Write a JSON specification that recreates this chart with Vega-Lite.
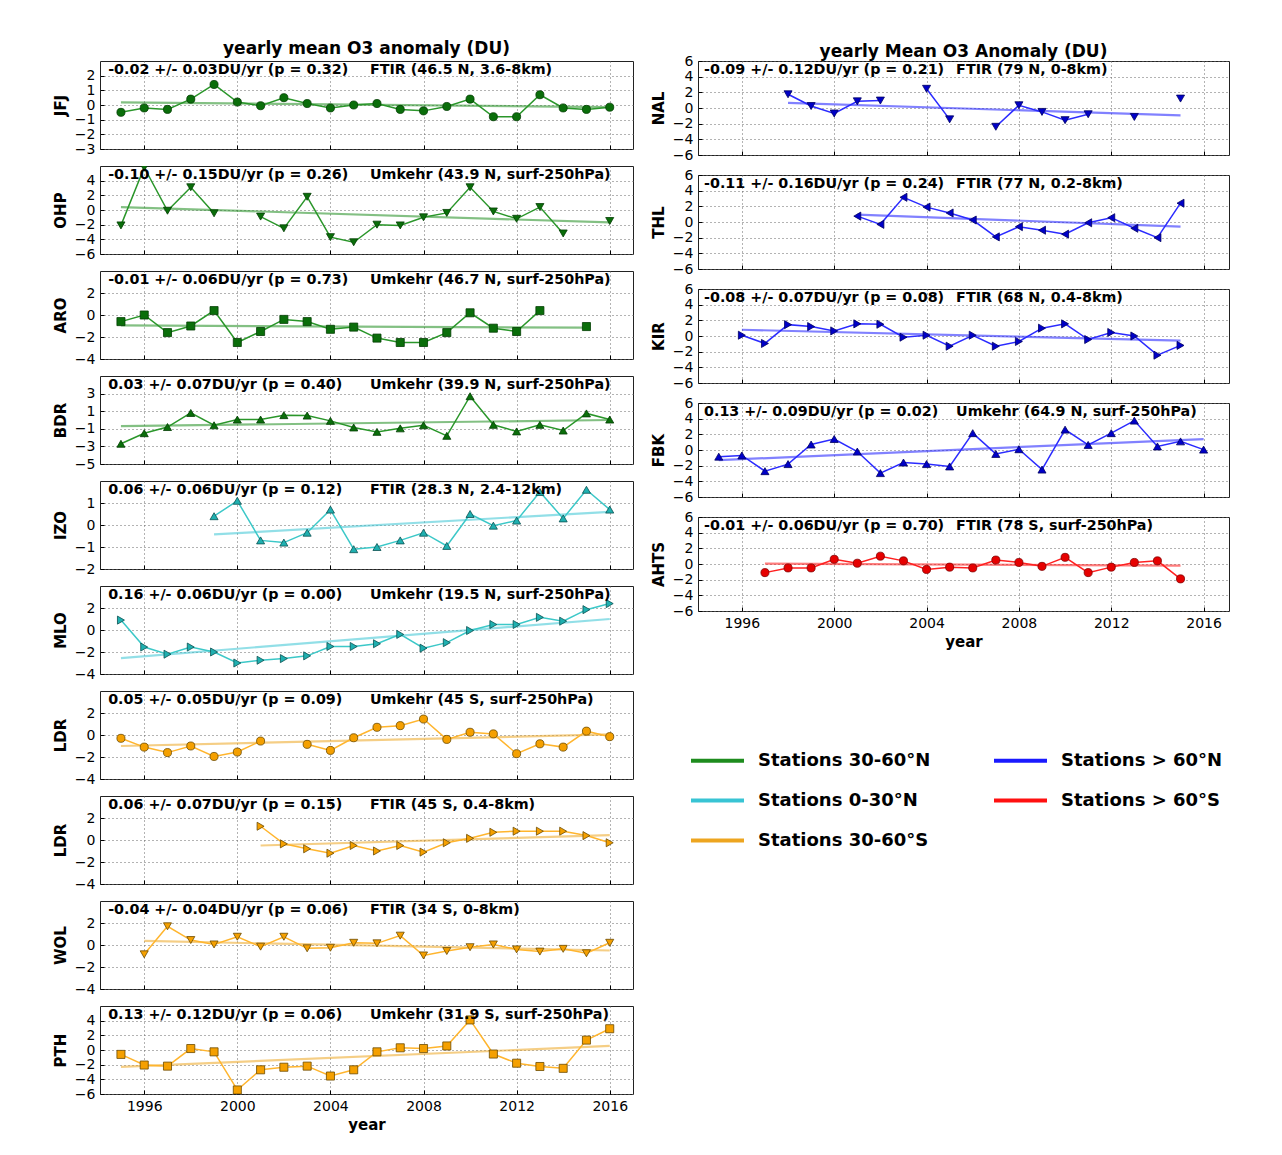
{
"$schema": "https://vega.github.io/schema/vega-lite/v6.json",
"padding": {"left": 52, "top": 39, "right": 40, "bottom": 20},
"background": "#ffffff",
"datasets": {
"obs": [
{"p":"JFJ","yr":1995,"v":-0.5},{"p":"JFJ","yr":1996,"v":-0.2},{"p":"JFJ","yr":1997,"v":-0.3},{"p":"JFJ","yr":1998,"v":0.4},{"p":"JFJ","yr":1999,"v":1.4},{"p":"JFJ","yr":2000,"v":0.2},{"p":"JFJ","yr":2001,"v":-0.05},{"p":"JFJ","yr":2002,"v":0.5},{"p":"JFJ","yr":2003,"v":0.1},{"p":"JFJ","yr":2004,"v":-0.2},{"p":"JFJ","yr":2005,"v":0.0},{"p":"JFJ","yr":2006,"v":0.1},{"p":"JFJ","yr":2007,"v":-0.3},{"p":"JFJ","yr":2008,"v":-0.4},{"p":"JFJ","yr":2009,"v":-0.1},{"p":"JFJ","yr":2010,"v":0.4},{"p":"JFJ","yr":2011,"v":-0.8},{"p":"JFJ","yr":2012,"v":-0.8},{"p":"JFJ","yr":2013,"v":0.7},{"p":"JFJ","yr":2014,"v":-0.2},{"p":"JFJ","yr":2015,"v":-0.3},{"p":"JFJ","yr":2016,"v":-0.15},
{"p":"OHP","yr":1995,"v":-2.1},{"p":"OHP","yr":1996,"v":5.8},{"p":"OHP","yr":1997,"v":-0.1},{"p":"OHP","yr":1998,"v":3.1},{"p":"OHP","yr":1999,"v":-0.45},{"p":"OHP","yr":2000,"v":null},{"p":"OHP","yr":2001,"v":-0.9},{"p":"OHP","yr":2002,"v":-2.5},{"p":"OHP","yr":2003,"v":1.8},{"p":"OHP","yr":2004,"v":-3.7},{"p":"OHP","yr":2005,"v":-4.4},{"p":"OHP","yr":2006,"v":-2.0},{"p":"OHP","yr":2007,"v":-2.1},{"p":"OHP","yr":2008,"v":-1.0},{"p":"OHP","yr":2009,"v":-0.4},{"p":"OHP","yr":2010,"v":3.1},{"p":"OHP","yr":2011,"v":-0.2},{"p":"OHP","yr":2012,"v":-1.2},{"p":"OHP","yr":2013,"v":0.4},{"p":"OHP","yr":2014,"v":-3.2},{"p":"OHP","yr":2015,"v":null},{"p":"OHP","yr":2016,"v":-1.5},
{"p":"ARO","yr":1995,"v":-0.6},{"p":"ARO","yr":1996,"v":0.0},{"p":"ARO","yr":1997,"v":-1.6},{"p":"ARO","yr":1998,"v":-1.0},{"p":"ARO","yr":1999,"v":0.4},{"p":"ARO","yr":2000,"v":-2.5},{"p":"ARO","yr":2001,"v":-1.5},{"p":"ARO","yr":2002,"v":-0.4},{"p":"ARO","yr":2003,"v":-0.6},{"p":"ARO","yr":2004,"v":-1.3},{"p":"ARO","yr":2005,"v":-1.1},{"p":"ARO","yr":2006,"v":-2.1},{"p":"ARO","yr":2007,"v":-2.5},{"p":"ARO","yr":2008,"v":-2.5},{"p":"ARO","yr":2009,"v":-1.6},{"p":"ARO","yr":2010,"v":0.2},{"p":"ARO","yr":2011,"v":-1.2},{"p":"ARO","yr":2012,"v":-1.5},{"p":"ARO","yr":2013,"v":0.4},{"p":"ARO","yr":2014,"v":null},{"p":"ARO","yr":2015,"v":-1.05},
{"p":"BDR","yr":1995,"v":-2.7},{"p":"BDR","yr":1996,"v":-1.5},{"p":"BDR","yr":1997,"v":-0.8},{"p":"BDR","yr":1998,"v":0.8},{"p":"BDR","yr":1999,"v":-0.6},{"p":"BDR","yr":2000,"v":0.05},{"p":"BDR","yr":2001,"v":0.05},{"p":"BDR","yr":2002,"v":0.55},{"p":"BDR","yr":2003,"v":0.5},{"p":"BDR","yr":2004,"v":-0.1},{"p":"BDR","yr":2005,"v":-0.85},{"p":"BDR","yr":2006,"v":-1.35},{"p":"BDR","yr":2007,"v":-0.95},{"p":"BDR","yr":2008,"v":-0.6},{"p":"BDR","yr":2009,"v":-1.8},{"p":"BDR","yr":2010,"v":2.7},{"p":"BDR","yr":2011,"v":-0.55},{"p":"BDR","yr":2012,"v":-1.3},{"p":"BDR","yr":2013,"v":-0.55},{"p":"BDR","yr":2014,"v":-1.2},{"p":"BDR","yr":2015,"v":0.75},{"p":"BDR","yr":2016,"v":0.05},
{"p":"IZO","yr":1999,"v":0.4},{"p":"IZO","yr":2000,"v":1.1},{"p":"IZO","yr":2001,"v":-0.7},{"p":"IZO","yr":2002,"v":-0.8},{"p":"IZO","yr":2003,"v":-0.35},{"p":"IZO","yr":2004,"v":0.7},{"p":"IZO","yr":2005,"v":-1.1},{"p":"IZO","yr":2006,"v":-1.0},{"p":"IZO","yr":2007,"v":-0.7},{"p":"IZO","yr":2008,"v":-0.35},{"p":"IZO","yr":2009,"v":-0.95},{"p":"IZO","yr":2010,"v":0.5},{"p":"IZO","yr":2011,"v":-0.03},{"p":"IZO","yr":2012,"v":0.2},{"p":"IZO","yr":2013,"v":1.5},{"p":"IZO","yr":2014,"v":0.3},{"p":"IZO","yr":2015,"v":1.6},{"p":"IZO","yr":2016,"v":0.7},
{"p":"MLO","yr":1995,"v":0.9},{"p":"MLO","yr":1996,"v":-1.55},{"p":"MLO","yr":1997,"v":-2.2},{"p":"MLO","yr":1998,"v":-1.55},{"p":"MLO","yr":1999,"v":-2.0},{"p":"MLO","yr":2000,"v":-3.0},{"p":"MLO","yr":2001,"v":-2.75},{"p":"MLO","yr":2002,"v":-2.6},{"p":"MLO","yr":2003,"v":-2.35},{"p":"MLO","yr":2004,"v":-1.5},{"p":"MLO","yr":2005,"v":-1.5},{"p":"MLO","yr":2006,"v":-1.25},{"p":"MLO","yr":2007,"v":-0.4},{"p":"MLO","yr":2008,"v":-1.65},{"p":"MLO","yr":2009,"v":-1.15},{"p":"MLO","yr":2010,"v":-0.05},{"p":"MLO","yr":2011,"v":0.5},{"p":"MLO","yr":2012,"v":0.5},{"p":"MLO","yr":2013,"v":1.15},{"p":"MLO","yr":2014,"v":0.8},{"p":"MLO","yr":2015,"v":1.85},{"p":"MLO","yr":2016,"v":2.4},
{"p":"LDRU","yr":1995,"v":-0.3},{"p":"LDRU","yr":1996,"v":-1.1},{"p":"LDRU","yr":1997,"v":-1.6},{"p":"LDRU","yr":1998,"v":-1.0},{"p":"LDRU","yr":1999,"v":-1.95},{"p":"LDRU","yr":2000,"v":-1.55},{"p":"LDRU","yr":2001,"v":-0.55},{"p":"LDRU","yr":2002,"v":null},{"p":"LDRU","yr":2003,"v":-0.85},{"p":"LDRU","yr":2004,"v":-1.4},{"p":"LDRU","yr":2005,"v":-0.25},{"p":"LDRU","yr":2006,"v":0.7},{"p":"LDRU","yr":2007,"v":0.85},{"p":"LDRU","yr":2008,"v":1.45},{"p":"LDRU","yr":2009,"v":-0.4},{"p":"LDRU","yr":2010,"v":0.25},{"p":"LDRU","yr":2011,"v":0.1},{"p":"LDRU","yr":2012,"v":-1.7},{"p":"LDRU","yr":2013,"v":-0.8},{"p":"LDRU","yr":2014,"v":-1.1},{"p":"LDRU","yr":2015,"v":0.35},{"p":"LDRU","yr":2016,"v":-0.15},
{"p":"LDRF","yr":2001,"v":1.25},{"p":"LDRF","yr":2002,"v":-0.35},{"p":"LDRF","yr":2003,"v":-0.8},{"p":"LDRF","yr":2004,"v":-1.2},{"p":"LDRF","yr":2005,"v":-0.5},{"p":"LDRF","yr":2006,"v":-1.0},{"p":"LDRF","yr":2007,"v":-0.5},{"p":"LDRF","yr":2008,"v":-1.1},{"p":"LDRF","yr":2009,"v":-0.25},{"p":"LDRF","yr":2010,"v":0.15},{"p":"LDRF","yr":2011,"v":0.7},{"p":"LDRF","yr":2012,"v":0.8},{"p":"LDRF","yr":2013,"v":0.8},{"p":"LDRF","yr":2014,"v":0.8},{"p":"LDRF","yr":2015,"v":0.4},{"p":"LDRF","yr":2016,"v":-0.25},
{"p":"WOL","yr":1996,"v":-0.85},{"p":"WOL","yr":1997,"v":1.7},{"p":"WOL","yr":1998,"v":0.45},{"p":"WOL","yr":1999,"v":0.05},{"p":"WOL","yr":2000,"v":0.75},{"p":"WOL","yr":2001,"v":-0.15},{"p":"WOL","yr":2002,"v":0.75},{"p":"WOL","yr":2003,"v":-0.3},{"p":"WOL","yr":2004,"v":-0.25},{"p":"WOL","yr":2005,"v":0.2},{"p":"WOL","yr":2006,"v":0.15},{"p":"WOL","yr":2007,"v":0.85},{"p":"WOL","yr":2008,"v":-0.95},{"p":"WOL","yr":2009,"v":-0.55},{"p":"WOL","yr":2010,"v":-0.2},{"p":"WOL","yr":2011,"v":0.05},{"p":"WOL","yr":2012,"v":-0.4},{"p":"WOL","yr":2013,"v":-0.6},{"p":"WOL","yr":2014,"v":-0.35},{"p":"WOL","yr":2015,"v":-0.75},{"p":"WOL","yr":2016,"v":0.2},
{"p":"PTH","yr":1995,"v":-0.6},{"p":"PTH","yr":1996,"v":-2.05},{"p":"PTH","yr":1997,"v":-2.2},{"p":"PTH","yr":1998,"v":0.2},{"p":"PTH","yr":1999,"v":-0.25},{"p":"PTH","yr":2000,"v":-5.45},{"p":"PTH","yr":2001,"v":-2.7},{"p":"PTH","yr":2002,"v":-2.35},{"p":"PTH","yr":2003,"v":-2.2},{"p":"PTH","yr":2004,"v":-3.55},{"p":"PTH","yr":2005,"v":-2.7},{"p":"PTH","yr":2006,"v":-0.25},{"p":"PTH","yr":2007,"v":0.3},{"p":"PTH","yr":2008,"v":0.2},{"p":"PTH","yr":2009,"v":0.55},{"p":"PTH","yr":2010,"v":4.1},{"p":"PTH","yr":2011,"v":-0.55},{"p":"PTH","yr":2012,"v":-1.8},{"p":"PTH","yr":2013,"v":-2.25},{"p":"PTH","yr":2014,"v":-2.5},{"p":"PTH","yr":2015,"v":1.35},{"p":"PTH","yr":2016,"v":2.9},
{"p":"NAL","yr":1998,"v":1.75},{"p":"NAL","yr":1999,"v":0.25},{"p":"NAL","yr":2000,"v":-0.7},{"p":"NAL","yr":2001,"v":0.85},{"p":"NAL","yr":2002,"v":0.95},{"p":"NAL","yr":2003,"v":null},{"p":"NAL","yr":2004,"v":2.45},{"p":"NAL","yr":2005,"v":-1.45},{"p":"NAL","yr":2006,"v":null},{"p":"NAL","yr":2007,"v":-2.4},{"p":"NAL","yr":2008,"v":0.35},{"p":"NAL","yr":2009,"v":-0.5},{"p":"NAL","yr":2010,"v":-1.55},{"p":"NAL","yr":2011,"v":-0.8},{"p":"NAL","yr":2012,"v":null},{"p":"NAL","yr":2013,"v":-1.15},{"p":"NAL","yr":2014,"v":null},{"p":"NAL","yr":2015,"v":1.2},
{"p":"THL","yr":2001,"v":0.75},{"p":"THL","yr":2002,"v":-0.3},{"p":"THL","yr":2003,"v":3.15},{"p":"THL","yr":2004,"v":1.9},{"p":"THL","yr":2005,"v":1.15},{"p":"THL","yr":2006,"v":0.25},{"p":"THL","yr":2007,"v":-1.9},{"p":"THL","yr":2008,"v":-0.6},{"p":"THL","yr":2009,"v":-1.05},{"p":"THL","yr":2010,"v":-1.55},{"p":"THL","yr":2011,"v":-0.1},{"p":"THL","yr":2012,"v":0.55},{"p":"THL","yr":2013,"v":-0.8},{"p":"THL","yr":2014,"v":-2.0},{"p":"THL","yr":2015,"v":2.4},
{"p":"KIR","yr":1996,"v":0.1},{"p":"KIR","yr":1997,"v":-0.95},{"p":"KIR","yr":1998,"v":1.45},{"p":"KIR","yr":1999,"v":1.2},{"p":"KIR","yr":2000,"v":0.65},{"p":"KIR","yr":2001,"v":1.55},{"p":"KIR","yr":2002,"v":1.5},{"p":"KIR","yr":2003,"v":-0.15},{"p":"KIR","yr":2004,"v":0.1},{"p":"KIR","yr":2005,"v":-1.3},{"p":"KIR","yr":2006,"v":0.1},{"p":"KIR","yr":2007,"v":-1.3},{"p":"KIR","yr":2008,"v":-0.7},{"p":"KIR","yr":2009,"v":1.0},{"p":"KIR","yr":2010,"v":1.55},{"p":"KIR","yr":2011,"v":-0.45},{"p":"KIR","yr":2012,"v":0.45},{"p":"KIR","yr":2013,"v":0.0},{"p":"KIR","yr":2014,"v":-2.45},{"p":"KIR","yr":2015,"v":-1.2},
{"p":"FBK","yr":1995,"v":-0.85},{"p":"FBK","yr":1996,"v":-0.7},{"p":"FBK","yr":1997,"v":-2.7},{"p":"FBK","yr":1998,"v":-1.8},{"p":"FBK","yr":1999,"v":0.7},{"p":"FBK","yr":2000,"v":1.4},{"p":"FBK","yr":2001,"v":-0.2},{"p":"FBK","yr":2002,"v":-2.95},{"p":"FBK","yr":2003,"v":-1.6},{"p":"FBK","yr":2004,"v":-1.8},{"p":"FBK","yr":2005,"v":-2.1},{"p":"FBK","yr":2006,"v":2.15},{"p":"FBK","yr":2007,"v":-0.5},{"p":"FBK","yr":2008,"v":0.1},{"p":"FBK","yr":2009,"v":-2.5},{"p":"FBK","yr":2010,"v":2.6},{"p":"FBK","yr":2011,"v":0.65},{"p":"FBK","yr":2012,"v":2.15},{"p":"FBK","yr":2013,"v":3.75},{"p":"FBK","yr":2014,"v":0.45},{"p":"FBK","yr":2015,"v":1.1},{"p":"FBK","yr":2016,"v":0.05},
{"p":"AHTS","yr":1997,"v":-1.1},{"p":"AHTS","yr":1998,"v":-0.5},{"p":"AHTS","yr":1999,"v":-0.5},{"p":"AHTS","yr":2000,"v":0.6},{"p":"AHTS","yr":2001,"v":0.1},{"p":"AHTS","yr":2002,"v":1.0},{"p":"AHTS","yr":2003,"v":0.4},{"p":"AHTS","yr":2004,"v":-0.7},{"p":"AHTS","yr":2005,"v":-0.4},{"p":"AHTS","yr":2006,"v":-0.5},{"p":"AHTS","yr":2007,"v":0.5},{"p":"AHTS","yr":2008,"v":0.2},{"p":"AHTS","yr":2009,"v":-0.3},{"p":"AHTS","yr":2010,"v":0.85},{"p":"AHTS","yr":2011,"v":-1.1},{"p":"AHTS","yr":2012,"v":-0.4},{"p":"AHTS","yr":2013,"v":0.2},{"p":"AHTS","yr":2014,"v":0.4},{"p":"AHTS","yr":2015,"v":-1.9}
],
"trend": [
{"p":"JFJ","g":"Stations 30-60°N","yr":1995,"v":0.18},{"p":"JFJ","g":"Stations 30-60°N","yr":2016,"v":-0.15},
{"p":"OHP","g":"Stations 30-60°N","yr":1995,"v":0.4},{"p":"OHP","g":"Stations 30-60°N","yr":2016,"v":-1.7},
{"p":"ARO","g":"Stations 30-60°N","yr":1995,"v":-0.95},{"p":"ARO","g":"Stations 30-60°N","yr":2015,"v":-1.15},
{"p":"BDR","g":"Stations 30-60°N","yr":1995,"v":-0.7},{"p":"BDR","g":"Stations 30-60°N","yr":2016,"v":0.0},
{"p":"IZO","g":"Stations 0-30°N","yr":1999,"v":-0.43},{"p":"IZO","g":"Stations 0-30°N","yr":2016,"v":0.6},
{"p":"MLO","g":"Stations 0-30°N","yr":1995,"v":-2.55},{"p":"MLO","g":"Stations 0-30°N","yr":2016,"v":1.0},
{"p":"LDRU","g":"Stations 30-60°S","yr":1995,"v":-1.0},{"p":"LDRU","g":"Stations 30-60°S","yr":2016,"v":0.05},
{"p":"LDRF","g":"Stations 30-60°S","yr":2001,"v":-0.5},{"p":"LDRF","g":"Stations 30-60°S","yr":2016,"v":0.45},
{"p":"WOL","g":"Stations 30-60°S","yr":1996,"v":0.37},{"p":"WOL","g":"Stations 30-60°S","yr":2016,"v":-0.5},
{"p":"PTH","g":"Stations 30-60°S","yr":1995,"v":-2.3},{"p":"PTH","g":"Stations 30-60°S","yr":2016,"v":0.55},
{"p":"NAL","g":"Stations > 60°N","yr":1998,"v":0.65},{"p":"NAL","g":"Stations > 60°N","yr":2015,"v":-0.95},
{"p":"THL","g":"Stations > 60°N","yr":2001,"v":0.95},{"p":"THL","g":"Stations > 60°N","yr":2015,"v":-0.6},
{"p":"KIR","g":"Stations > 60°N","yr":1996,"v":0.8},{"p":"KIR","g":"Stations > 60°N","yr":2015,"v":-0.6},
{"p":"FBK","g":"Stations > 60°N","yr":1995,"v":-1.3},{"p":"FBK","g":"Stations > 60°N","yr":2016,"v":1.4},
{"p":"AHTS","g":"Stations > 60°S","yr":1997,"v":0.05},{"p":"AHTS","g":"Stations > 60°S","yr":2015,"v":-0.2}
],
"notes": [
{"p":"JFJ","t1":"-0.02 +/- 0.03DU/yr (p = 0.32)","t2":"FTIR (46.5 N, 3.6-8km)"},
{"p":"OHP","t1":"-0.10 +/- 0.15DU/yr (p = 0.26)","t2":"Umkehr (43.9 N, surf-250hPa)"},
{"p":"ARO","t1":"-0.01 +/- 0.06DU/yr (p = 0.73)","t2":"Umkehr (46.7 N, surf-250hPa)"},
{"p":"BDR","t1":"0.03 +/- 0.07DU/yr (p = 0.40)","t2":"Umkehr (39.9 N, surf-250hPa)"},
{"p":"IZO","t1":"0.06 +/- 0.06DU/yr (p = 0.12)","t2":"FTIR (28.3 N, 2.4-12km)"},
{"p":"MLO","t1":"0.16 +/- 0.06DU/yr (p = 0.00)","t2":"Umkehr (19.5 N, surf-250hPa)"},
{"p":"LDRU","t1":"0.05 +/- 0.05DU/yr (p = 0.09)","t2":"Umkehr (45 S, surf-250hPa)"},
{"p":"LDRF","t1":"0.06 +/- 0.07DU/yr (p = 0.15)","t2":"FTIR (45 S, 0.4-8km)"},
{"p":"WOL","t1":"-0.04 +/- 0.04DU/yr (p = 0.06)","t2":"FTIR (34 S, 0-8km)"},
{"p":"PTH","t1":"0.13 +/- 0.12DU/yr (p = 0.06)","t2":"Umkehr (31.9 S, surf-250hPa)"},
{"p":"NAL","t1":"-0.09 +/- 0.12DU/yr (p = 0.21)","t2":"FTIR (79 N, 0-8km)"},
{"p":"THL","t1":"-0.11 +/- 0.16DU/yr (p = 0.24)","t2":"FTIR (77 N, 0.2-8km)"},
{"p":"KIR","t1":"-0.08 +/- 0.07DU/yr (p = 0.08)","t2":"FTIR (68 N, 0.4-8km)"},
{"p":"FBK","t1":"0.13 +/- 0.09DU/yr (p = 0.02)","t2":"Umkehr (64.9 N, surf-250hPa)"},
{"p":"AHTS","t1":"-0.01 +/- 0.06DU/yr (p = 0.70)","t2":"FTIR (78 S, surf-250hPa)"}
]
},
"hconcat": [
{
"vconcat": [
{"width":533,"height":88,
"title":{"text":"yearly mean O3 anomaly (DU)","fontSize":17,"fontWeight":"bold","font":"DejaVu Sans","offset":3,"color":"#000"},
"layer":[
{"data":{"name":"trend"},"transform":[{"filter":"datum.p=='JFJ'"}],"mark":{"type":"line","strokeWidth":2.2,"opacity":0.55},"encoding":{"x":{"field":"yr","type":"quantitative","scale":{"domain":[1994.1,2017],"nice":false},"axis":{"values":[1996,2000,2004,2008,2012,2016],"labels":false,"title":null,"labelOverlap":false,"tickCount":30}},"y":{"field":"v","type":"quantitative","scale":{"domain":[-3,3],"nice":false},"axis":{"values":[-3,-2,-1,0,1,2],"format":"d","title":"JFJ","labelOverlap":false,"tickCount":30}},"color":{"field":"g","type":"nominal","title":null,"scale":{"domain":["Stations 30-60°N","Stations 0-30°N","Stations 30-60°S","Stations > 60°N","Stations > 60°S"],"range":["#1e8c1e","#38c4d4","#eda520","#1a1aff","#ff1010"]}}}},
{"data":{"name":"obs"},"transform":[{"filter":"datum.p=='JFJ'"}],"mark":{"type":"line","strokeWidth":1.5,"color":"#2a962a","invalid":"break-paths-filter-domains"},"encoding":{"x":{"field":"yr","type":"quantitative","title":null},"y":{"field":"v","type":"quantitative","title":"JFJ"}}},
{"data":{"name":"obs"},"transform":[{"filter":"datum.p=='JFJ'"}],"mark":{"type":"point","shape":"circle","filled":true,"size":65,"fill":"#0a6e0a","stroke":"#033d03","strokeWidth":0.8,"opacity":1,"clip":true},"encoding":{"x":{"field":"yr","type":"quantitative","title":null},"y":{"field":"v","type":"quantitative","title":"JFJ"}}},
{"data":{"name":"notes"},"transform":[{"filter":"datum.p=='JFJ'"}],"mark":{"type":"text","font":"DejaVu Sans","fontWeight":"bold","fontSize":14.3,"color":"#000","align":"left","baseline":"top","dy":2},"encoding":{"x":{"datum":1994.45},"y":{"datum":3},"text":{"field":"t1"}}},
{"data":{"name":"notes"},"transform":[{"filter":"datum.p=='JFJ'"}],"mark":{"type":"text","font":"DejaVu Sans","fontWeight":"bold","fontSize":14.3,"color":"#000","align":"left","baseline":"top","dy":2},"encoding":{"x":{"datum":2005.7},"y":{"datum":3},"text":{"field":"t2"}}}
]},
{"width":533,"height":88,
"layer":[
{"data":{"name":"trend"},"transform":[{"filter":"datum.p=='OHP'"}],"mark":{"type":"line","strokeWidth":2.2,"opacity":0.55},"encoding":{"x":{"field":"yr","type":"quantitative","scale":{"domain":[1994.1,2017],"nice":false},"axis":{"values":[1996,2000,2004,2008,2012,2016],"labels":false,"title":null,"labelOverlap":false,"tickCount":30}},"y":{"field":"v","type":"quantitative","scale":{"domain":[-6,6],"nice":false},"axis":{"values":[-6,-4,-2,0,2,4],"format":"d","title":"OHP","labelOverlap":false,"tickCount":30}},"color":{"field":"g","type":"nominal","title":null,"scale":{"domain":["Stations 30-60°N","Stations 0-30°N","Stations 30-60°S","Stations > 60°N","Stations > 60°S"],"range":["#1e8c1e","#38c4d4","#eda520","#1a1aff","#ff1010"]}}}},
{"data":{"name":"obs"},"transform":[{"filter":"datum.p=='OHP'"}],"mark":{"type":"line","strokeWidth":1.5,"color":"#2a962a","invalid":"break-paths-filter-domains"},"encoding":{"x":{"field":"yr","type":"quantitative","title":null},"y":{"field":"v","type":"quantitative","title":"OHP"}}},
{"data":{"name":"obs"},"transform":[{"filter":"datum.p=='OHP'"}],"mark":{"type":"point","shape":"triangle-down","filled":true,"size":65,"fill":"#0a6e0a","stroke":"#033d03","strokeWidth":0.8,"opacity":1,"clip":true},"encoding":{"x":{"field":"yr","type":"quantitative","title":null},"y":{"field":"v","type":"quantitative","title":"OHP"}}},
{"data":{"name":"notes"},"transform":[{"filter":"datum.p=='OHP'"}],"mark":{"type":"text","font":"DejaVu Sans","fontWeight":"bold","fontSize":14.3,"color":"#000","align":"left","baseline":"top","dy":2},"encoding":{"x":{"datum":1994.45},"y":{"datum":6},"text":{"field":"t1"}}},
{"data":{"name":"notes"},"transform":[{"filter":"datum.p=='OHP'"}],"mark":{"type":"text","font":"DejaVu Sans","fontWeight":"bold","fontSize":14.3,"color":"#000","align":"left","baseline":"top","dy":2},"encoding":{"x":{"datum":2005.7},"y":{"datum":6},"text":{"field":"t2"}}}
]},
{"width":533,"height":88,
"layer":[
{"data":{"name":"trend"},"transform":[{"filter":"datum.p=='ARO'"}],"mark":{"type":"line","strokeWidth":2.2,"opacity":0.55},"encoding":{"x":{"field":"yr","type":"quantitative","scale":{"domain":[1994.1,2017],"nice":false},"axis":{"values":[1996,2000,2004,2008,2012,2016],"labels":false,"title":null,"labelOverlap":false,"tickCount":30}},"y":{"field":"v","type":"quantitative","scale":{"domain":[-4,4],"nice":false},"axis":{"values":[-4,-2,0,2],"format":"d","title":"ARO","labelOverlap":false,"tickCount":30}},"color":{"field":"g","type":"nominal","title":null,"scale":{"domain":["Stations 30-60°N","Stations 0-30°N","Stations 30-60°S","Stations > 60°N","Stations > 60°S"],"range":["#1e8c1e","#38c4d4","#eda520","#1a1aff","#ff1010"]}}}},
{"data":{"name":"obs"},"transform":[{"filter":"datum.p=='ARO'"}],"mark":{"type":"line","strokeWidth":1.5,"color":"#2a962a","invalid":"break-paths-filter-domains"},"encoding":{"x":{"field":"yr","type":"quantitative","title":null},"y":{"field":"v","type":"quantitative","title":"ARO"}}},
{"data":{"name":"obs"},"transform":[{"filter":"datum.p=='ARO'"}],"mark":{"type":"point","shape":"square","filled":true,"size":65,"fill":"#0a6e0a","stroke":"#033d03","strokeWidth":0.8,"opacity":1,"clip":true},"encoding":{"x":{"field":"yr","type":"quantitative","title":null},"y":{"field":"v","type":"quantitative","title":"ARO"}}},
{"data":{"name":"notes"},"transform":[{"filter":"datum.p=='ARO'"}],"mark":{"type":"text","font":"DejaVu Sans","fontWeight":"bold","fontSize":14.3,"color":"#000","align":"left","baseline":"top","dy":2},"encoding":{"x":{"datum":1994.45},"y":{"datum":4},"text":{"field":"t1"}}},
{"data":{"name":"notes"},"transform":[{"filter":"datum.p=='ARO'"}],"mark":{"type":"text","font":"DejaVu Sans","fontWeight":"bold","fontSize":14.3,"color":"#000","align":"left","baseline":"top","dy":2},"encoding":{"x":{"datum":2005.7},"y":{"datum":4},"text":{"field":"t2"}}}
]},
{"width":533,"height":88,
"layer":[
{"data":{"name":"trend"},"transform":[{"filter":"datum.p=='BDR'"}],"mark":{"type":"line","strokeWidth":2.2,"opacity":0.55},"encoding":{"x":{"field":"yr","type":"quantitative","scale":{"domain":[1994.1,2017],"nice":false},"axis":{"values":[1996,2000,2004,2008,2012,2016],"labels":false,"title":null,"labelOverlap":false,"tickCount":30}},"y":{"field":"v","type":"quantitative","scale":{"domain":[-5,5],"nice":false},"axis":{"values":[-5,-3,-1,1,3],"format":"d","title":"BDR","labelOverlap":false,"tickCount":30}},"color":{"field":"g","type":"nominal","title":null,"scale":{"domain":["Stations 30-60°N","Stations 0-30°N","Stations 30-60°S","Stations > 60°N","Stations > 60°S"],"range":["#1e8c1e","#38c4d4","#eda520","#1a1aff","#ff1010"]}}}},
{"data":{"name":"obs"},"transform":[{"filter":"datum.p=='BDR'"}],"mark":{"type":"line","strokeWidth":1.5,"color":"#2a962a","invalid":"break-paths-filter-domains"},"encoding":{"x":{"field":"yr","type":"quantitative","title":null},"y":{"field":"v","type":"quantitative","title":"BDR"}}},
{"data":{"name":"obs"},"transform":[{"filter":"datum.p=='BDR'"}],"mark":{"type":"point","shape":"triangle-up","filled":true,"size":65,"fill":"#0a6e0a","stroke":"#033d03","strokeWidth":0.8,"opacity":1,"clip":true},"encoding":{"x":{"field":"yr","type":"quantitative","title":null},"y":{"field":"v","type":"quantitative","title":"BDR"}}},
{"data":{"name":"notes"},"transform":[{"filter":"datum.p=='BDR'"}],"mark":{"type":"text","font":"DejaVu Sans","fontWeight":"bold","fontSize":14.3,"color":"#000","align":"left","baseline":"top","dy":2},"encoding":{"x":{"datum":1994.45},"y":{"datum":5},"text":{"field":"t1"}}},
{"data":{"name":"notes"},"transform":[{"filter":"datum.p=='BDR'"}],"mark":{"type":"text","font":"DejaVu Sans","fontWeight":"bold","fontSize":14.3,"color":"#000","align":"left","baseline":"top","dy":2},"encoding":{"x":{"datum":2005.7},"y":{"datum":5},"text":{"field":"t2"}}}
]},
{"width":533,"height":88,
"layer":[
{"data":{"name":"trend"},"transform":[{"filter":"datum.p=='IZO'"}],"mark":{"type":"line","strokeWidth":2.2,"opacity":0.55},"encoding":{"x":{"field":"yr","type":"quantitative","scale":{"domain":[1994.1,2017],"nice":false},"axis":{"values":[1996,2000,2004,2008,2012,2016],"labels":false,"title":null,"labelOverlap":false,"tickCount":30}},"y":{"field":"v","type":"quantitative","scale":{"domain":[-2,2],"nice":false},"axis":{"values":[-2,-1,0,1],"format":"d","title":"IZO","labelOverlap":false,"tickCount":30}},"color":{"field":"g","type":"nominal","title":null,"scale":{"domain":["Stations 30-60°N","Stations 0-30°N","Stations 30-60°S","Stations > 60°N","Stations > 60°S"],"range":["#1e8c1e","#38c4d4","#eda520","#1a1aff","#ff1010"]}}}},
{"data":{"name":"obs"},"transform":[{"filter":"datum.p=='IZO'"}],"mark":{"type":"line","strokeWidth":1.5,"color":"#3cc8c8","invalid":"break-paths-filter-domains"},"encoding":{"x":{"field":"yr","type":"quantitative","title":null},"y":{"field":"v","type":"quantitative","title":"IZO"}}},
{"data":{"name":"obs"},"transform":[{"filter":"datum.p=='IZO'"}],"mark":{"type":"point","shape":"triangle-up","filled":true,"size":65,"fill":"#1fb0b0","stroke":"#0b5050","strokeWidth":0.8,"opacity":1,"clip":true},"encoding":{"x":{"field":"yr","type":"quantitative","title":null},"y":{"field":"v","type":"quantitative","title":"IZO"}}},
{"data":{"name":"notes"},"transform":[{"filter":"datum.p=='IZO'"}],"mark":{"type":"text","font":"DejaVu Sans","fontWeight":"bold","fontSize":14.3,"color":"#000","align":"left","baseline":"top","dy":2},"encoding":{"x":{"datum":1994.45},"y":{"datum":2},"text":{"field":"t1"}}},
{"data":{"name":"notes"},"transform":[{"filter":"datum.p=='IZO'"}],"mark":{"type":"text","font":"DejaVu Sans","fontWeight":"bold","fontSize":14.3,"color":"#000","align":"left","baseline":"top","dy":2},"encoding":{"x":{"datum":2005.7},"y":{"datum":2},"text":{"field":"t2"}}}
]},
{"width":533,"height":88,
"layer":[
{"data":{"name":"trend"},"transform":[{"filter":"datum.p=='MLO'"}],"mark":{"type":"line","strokeWidth":2.2,"opacity":0.55},"encoding":{"x":{"field":"yr","type":"quantitative","scale":{"domain":[1994.1,2017],"nice":false},"axis":{"values":[1996,2000,2004,2008,2012,2016],"labels":false,"title":null,"labelOverlap":false,"tickCount":30}},"y":{"field":"v","type":"quantitative","scale":{"domain":[-4,4],"nice":false},"axis":{"values":[-4,-2,0,2],"format":"d","title":"MLO","labelOverlap":false,"tickCount":30}},"color":{"field":"g","type":"nominal","title":null,"scale":{"domain":["Stations 30-60°N","Stations 0-30°N","Stations 30-60°S","Stations > 60°N","Stations > 60°S"],"range":["#1e8c1e","#38c4d4","#eda520","#1a1aff","#ff1010"]}}}},
{"data":{"name":"obs"},"transform":[{"filter":"datum.p=='MLO'"}],"mark":{"type":"line","strokeWidth":1.5,"color":"#3cc8c8","invalid":"break-paths-filter-domains"},"encoding":{"x":{"field":"yr","type":"quantitative","title":null},"y":{"field":"v","type":"quantitative","title":"MLO"}}},
{"data":{"name":"obs"},"transform":[{"filter":"datum.p=='MLO'"}],"mark":{"type":"point","shape":"triangle-right","filled":true,"size":65,"fill":"#1fb0b0","stroke":"#0b5050","strokeWidth":0.8,"opacity":1,"clip":true},"encoding":{"x":{"field":"yr","type":"quantitative","title":null},"y":{"field":"v","type":"quantitative","title":"MLO"}}},
{"data":{"name":"notes"},"transform":[{"filter":"datum.p=='MLO'"}],"mark":{"type":"text","font":"DejaVu Sans","fontWeight":"bold","fontSize":14.3,"color":"#000","align":"left","baseline":"top","dy":2},"encoding":{"x":{"datum":1994.45},"y":{"datum":4},"text":{"field":"t1"}}},
{"data":{"name":"notes"},"transform":[{"filter":"datum.p=='MLO'"}],"mark":{"type":"text","font":"DejaVu Sans","fontWeight":"bold","fontSize":14.3,"color":"#000","align":"left","baseline":"top","dy":2},"encoding":{"x":{"datum":2005.7},"y":{"datum":4},"text":{"field":"t2"}}}
]},
{"width":533,"height":88,
"layer":[
{"data":{"name":"trend"},"transform":[{"filter":"datum.p=='LDRU'"}],"mark":{"type":"line","strokeWidth":2.2,"opacity":0.55},"encoding":{"x":{"field":"yr","type":"quantitative","scale":{"domain":[1994.1,2017],"nice":false},"axis":{"values":[1996,2000,2004,2008,2012,2016],"labels":false,"title":null,"labelOverlap":false,"tickCount":30}},"y":{"field":"v","type":"quantitative","scale":{"domain":[-4,4],"nice":false},"axis":{"values":[-4,-2,0,2],"format":"d","title":"LDR","labelOverlap":false,"tickCount":30}},"color":{"field":"g","type":"nominal","title":null,"scale":{"domain":["Stations 30-60°N","Stations 0-30°N","Stations 30-60°S","Stations > 60°N","Stations > 60°S"],"range":["#1e8c1e","#38c4d4","#eda520","#1a1aff","#ff1010"]}}}},
{"data":{"name":"obs"},"transform":[{"filter":"datum.p=='LDRU'"}],"mark":{"type":"line","strokeWidth":1.5,"color":"#ffb52e","invalid":"break-paths-filter-domains"},"encoding":{"x":{"field":"yr","type":"quantitative","title":null},"y":{"field":"v","type":"quantitative","title":"LDR"}}},
{"data":{"name":"obs"},"transform":[{"filter":"datum.p=='LDRU'"}],"mark":{"type":"point","shape":"circle","filled":true,"size":65,"fill":"#f5a000","stroke":"#6b4a00","strokeWidth":0.8,"opacity":1,"clip":true},"encoding":{"x":{"field":"yr","type":"quantitative","title":null},"y":{"field":"v","type":"quantitative","title":"LDR"}}},
{"data":{"name":"notes"},"transform":[{"filter":"datum.p=='LDRU'"}],"mark":{"type":"text","font":"DejaVu Sans","fontWeight":"bold","fontSize":14.3,"color":"#000","align":"left","baseline":"top","dy":2},"encoding":{"x":{"datum":1994.45},"y":{"datum":4},"text":{"field":"t1"}}},
{"data":{"name":"notes"},"transform":[{"filter":"datum.p=='LDRU'"}],"mark":{"type":"text","font":"DejaVu Sans","fontWeight":"bold","fontSize":14.3,"color":"#000","align":"left","baseline":"top","dy":2},"encoding":{"x":{"datum":2005.7},"y":{"datum":4},"text":{"field":"t2"}}}
]},
{"width":533,"height":88,
"layer":[
{"data":{"name":"trend"},"transform":[{"filter":"datum.p=='LDRF'"}],"mark":{"type":"line","strokeWidth":2.2,"opacity":0.55},"encoding":{"x":{"field":"yr","type":"quantitative","scale":{"domain":[1994.1,2017],"nice":false},"axis":{"values":[1996,2000,2004,2008,2012,2016],"labels":false,"title":null,"labelOverlap":false,"tickCount":30}},"y":{"field":"v","type":"quantitative","scale":{"domain":[-4,4],"nice":false},"axis":{"values":[-4,-2,0,2],"format":"d","title":"LDR","labelOverlap":false,"tickCount":30}},"color":{"field":"g","type":"nominal","title":null,"scale":{"domain":["Stations 30-60°N","Stations 0-30°N","Stations 30-60°S","Stations > 60°N","Stations > 60°S"],"range":["#1e8c1e","#38c4d4","#eda520","#1a1aff","#ff1010"]}}}},
{"data":{"name":"obs"},"transform":[{"filter":"datum.p=='LDRF'"}],"mark":{"type":"line","strokeWidth":1.5,"color":"#ffb52e","invalid":"break-paths-filter-domains"},"encoding":{"x":{"field":"yr","type":"quantitative","title":null},"y":{"field":"v","type":"quantitative","title":"LDR"}}},
{"data":{"name":"obs"},"transform":[{"filter":"datum.p=='LDRF'"}],"mark":{"type":"point","shape":"triangle-right","filled":true,"size":65,"fill":"#f5a000","stroke":"#6b4a00","strokeWidth":0.8,"opacity":1,"clip":true},"encoding":{"x":{"field":"yr","type":"quantitative","title":null},"y":{"field":"v","type":"quantitative","title":"LDR"}}},
{"data":{"name":"notes"},"transform":[{"filter":"datum.p=='LDRF'"}],"mark":{"type":"text","font":"DejaVu Sans","fontWeight":"bold","fontSize":14.3,"color":"#000","align":"left","baseline":"top","dy":2},"encoding":{"x":{"datum":1994.45},"y":{"datum":4},"text":{"field":"t1"}}},
{"data":{"name":"notes"},"transform":[{"filter":"datum.p=='LDRF'"}],"mark":{"type":"text","font":"DejaVu Sans","fontWeight":"bold","fontSize":14.3,"color":"#000","align":"left","baseline":"top","dy":2},"encoding":{"x":{"datum":2005.7},"y":{"datum":4},"text":{"field":"t2"}}}
]},
{"width":533,"height":88,
"layer":[
{"data":{"name":"trend"},"transform":[{"filter":"datum.p=='WOL'"}],"mark":{"type":"line","strokeWidth":2.2,"opacity":0.55},"encoding":{"x":{"field":"yr","type":"quantitative","scale":{"domain":[1994.1,2017],"nice":false},"axis":{"values":[1996,2000,2004,2008,2012,2016],"labels":false,"title":null,"labelOverlap":false,"tickCount":30}},"y":{"field":"v","type":"quantitative","scale":{"domain":[-4,4],"nice":false},"axis":{"values":[-4,-2,0,2],"format":"d","title":"WOL","labelOverlap":false,"tickCount":30}},"color":{"field":"g","type":"nominal","title":null,"scale":{"domain":["Stations 30-60°N","Stations 0-30°N","Stations 30-60°S","Stations > 60°N","Stations > 60°S"],"range":["#1e8c1e","#38c4d4","#eda520","#1a1aff","#ff1010"]}}}},
{"data":{"name":"obs"},"transform":[{"filter":"datum.p=='WOL'"}],"mark":{"type":"line","strokeWidth":1.5,"color":"#ffb52e","invalid":"break-paths-filter-domains"},"encoding":{"x":{"field":"yr","type":"quantitative","title":null},"y":{"field":"v","type":"quantitative","title":"WOL"}}},
{"data":{"name":"obs"},"transform":[{"filter":"datum.p=='WOL'"}],"mark":{"type":"point","shape":"triangle-down","filled":true,"size":65,"fill":"#f5a000","stroke":"#6b4a00","strokeWidth":0.8,"opacity":1,"clip":true},"encoding":{"x":{"field":"yr","type":"quantitative","title":null},"y":{"field":"v","type":"quantitative","title":"WOL"}}},
{"data":{"name":"notes"},"transform":[{"filter":"datum.p=='WOL'"}],"mark":{"type":"text","font":"DejaVu Sans","fontWeight":"bold","fontSize":14.3,"color":"#000","align":"left","baseline":"top","dy":2},"encoding":{"x":{"datum":1994.45},"y":{"datum":4},"text":{"field":"t1"}}},
{"data":{"name":"notes"},"transform":[{"filter":"datum.p=='WOL'"}],"mark":{"type":"text","font":"DejaVu Sans","fontWeight":"bold","fontSize":14.3,"color":"#000","align":"left","baseline":"top","dy":2},"encoding":{"x":{"datum":2005.7},"y":{"datum":4},"text":{"field":"t2"}}}
]},
{"width":533,"height":88,
"layer":[
{"data":{"name":"trend"},"transform":[{"filter":"datum.p=='PTH'"}],"mark":{"type":"line","strokeWidth":2.2,"opacity":0.55},"encoding":{"x":{"field":"yr","type":"quantitative","scale":{"domain":[1994.1,2017],"nice":false},"axis":{"values":[1996,2000,2004,2008,2012,2016],"format":"d","title":"year","labelOverlap":false,"tickCount":30}},"y":{"field":"v","type":"quantitative","scale":{"domain":[-6,6],"nice":false},"axis":{"values":[-6,-4,-2,0,2,4],"format":"d","title":"PTH","labelOverlap":false,"tickCount":30}},"color":{"field":"g","type":"nominal","title":null,"scale":{"domain":["Stations 30-60°N","Stations 0-30°N","Stations 30-60°S","Stations > 60°N","Stations > 60°S"],"range":["#1e8c1e","#38c4d4","#eda520","#1a1aff","#ff1010"]}}}},
{"data":{"name":"obs"},"transform":[{"filter":"datum.p=='PTH'"}],"mark":{"type":"line","strokeWidth":1.5,"color":"#ffb52e","invalid":"break-paths-filter-domains"},"encoding":{"x":{"field":"yr","type":"quantitative","title":"year"},"y":{"field":"v","type":"quantitative","title":"PTH"}}},
{"data":{"name":"obs"},"transform":[{"filter":"datum.p=='PTH'"}],"mark":{"type":"point","shape":"square","filled":true,"size":65,"fill":"#f5a000","stroke":"#6b4a00","strokeWidth":0.8,"opacity":1,"clip":true},"encoding":{"x":{"field":"yr","type":"quantitative","title":"year"},"y":{"field":"v","type":"quantitative","title":"PTH"}}},
{"data":{"name":"notes"},"transform":[{"filter":"datum.p=='PTH'"}],"mark":{"type":"text","font":"DejaVu Sans","fontWeight":"bold","fontSize":14.3,"color":"#000","align":"left","baseline":"top","dy":2},"encoding":{"x":{"datum":1994.45},"y":{"datum":6},"text":{"field":"t1"}}},
{"data":{"name":"notes"},"transform":[{"filter":"datum.p=='PTH'"}],"mark":{"type":"text","font":"DejaVu Sans","fontWeight":"bold","fontSize":14.3,"color":"#000","align":"left","baseline":"top","dy":2},"encoding":{"x":{"datum":2005.7},"y":{"datum":6},"text":{"field":"t2"}}}
]}
],
"spacing": 17,
"bounds": "flush",
"resolve": {"scale": {"x": "independent", "y": "independent"}}
},
{
"vconcat": [
{"width":531,"height":94,
"title":{"text":"yearly Mean O3 Anomaly (DU)","fontSize":17,"fontWeight":"bold","font":"DejaVu Sans","offset":-7,"color":"#000"},
"layer":[
{"data":{"name":"trend"},"transform":[{"filter":"datum.p=='NAL'"}],"mark":{"type":"line","strokeWidth":2.2,"opacity":0.55},"encoding":{"x":{"field":"yr","type":"quantitative","scale":{"domain":[1994.1,2017.1],"nice":false},"axis":{"values":[1996,2000,2004,2008,2012,2016],"labels":false,"title":null,"labelOverlap":false,"tickCount":30}},"y":{"field":"v","type":"quantitative","scale":{"domain":[-6,6],"nice":false},"axis":{"values":[-6,-4,-2,0,2,4,6],"format":"d","title":"NAL","labelOverlap":false,"tickCount":30}},"color":{"field":"g","type":"nominal","title":null,"scale":{"domain":["Stations 30-60°N","Stations 0-30°N","Stations 30-60°S","Stations > 60°N","Stations > 60°S"],"range":["#1e8c1e","#38c4d4","#eda520","#1a1aff","#ff1010"]}}}},
{"data":{"name":"obs"},"transform":[{"filter":"datum.p=='NAL'"}],"mark":{"type":"line","strokeWidth":1.5,"color":"#2b2bff","invalid":"break-paths-filter-domains"},"encoding":{"x":{"field":"yr","type":"quantitative","title":null},"y":{"field":"v","type":"quantitative","title":"NAL"}}},
{"data":{"name":"obs"},"transform":[{"filter":"datum.p=='NAL'"}],"mark":{"type":"point","shape":"triangle-down","filled":true,"size":65,"fill":"#0000c8","stroke":"#000060","strokeWidth":0.8,"opacity":1,"clip":true},"encoding":{"x":{"field":"yr","type":"quantitative","title":null},"y":{"field":"v","type":"quantitative","title":"NAL"}}},
{"data":{"name":"notes"},"transform":[{"filter":"datum.p=='NAL'"}],"mark":{"type":"text","font":"DejaVu Sans","fontWeight":"bold","fontSize":14.3,"color":"#000","align":"left","baseline":"top","dy":2},"encoding":{"x":{"datum":1994.36},"y":{"datum":6},"text":{"field":"t1"}}},
{"data":{"name":"notes"},"transform":[{"filter":"datum.p=='NAL'"}],"mark":{"type":"text","font":"DejaVu Sans","fontWeight":"bold","fontSize":14.3,"color":"#000","align":"left","baseline":"top","dy":2},"encoding":{"x":{"datum":2005.28},"y":{"datum":6},"text":{"field":"t2"}}}
]},
{"width":531,"height":94,
"layer":[
{"data":{"name":"trend"},"transform":[{"filter":"datum.p=='THL'"}],"mark":{"type":"line","strokeWidth":2.2,"opacity":0.55},"encoding":{"x":{"field":"yr","type":"quantitative","scale":{"domain":[1994.1,2017.1],"nice":false},"axis":{"values":[1996,2000,2004,2008,2012,2016],"labels":false,"title":null,"labelOverlap":false,"tickCount":30}},"y":{"field":"v","type":"quantitative","scale":{"domain":[-6,6],"nice":false},"axis":{"values":[-6,-4,-2,0,2,4,6],"format":"d","title":"THL","labelOverlap":false,"tickCount":30}},"color":{"field":"g","type":"nominal","title":null,"scale":{"domain":["Stations 30-60°N","Stations 0-30°N","Stations 30-60°S","Stations > 60°N","Stations > 60°S"],"range":["#1e8c1e","#38c4d4","#eda520","#1a1aff","#ff1010"]}}}},
{"data":{"name":"obs"},"transform":[{"filter":"datum.p=='THL'"}],"mark":{"type":"line","strokeWidth":1.5,"color":"#2b2bff","invalid":"break-paths-filter-domains"},"encoding":{"x":{"field":"yr","type":"quantitative","title":null},"y":{"field":"v","type":"quantitative","title":"THL"}}},
{"data":{"name":"obs"},"transform":[{"filter":"datum.p=='THL'"}],"mark":{"type":"point","shape":"triangle-left","filled":true,"size":65,"fill":"#0000c8","stroke":"#000060","strokeWidth":0.8,"opacity":1,"clip":true},"encoding":{"x":{"field":"yr","type":"quantitative","title":null},"y":{"field":"v","type":"quantitative","title":"THL"}}},
{"data":{"name":"notes"},"transform":[{"filter":"datum.p=='THL'"}],"mark":{"type":"text","font":"DejaVu Sans","fontWeight":"bold","fontSize":14.3,"color":"#000","align":"left","baseline":"top","dy":2},"encoding":{"x":{"datum":1994.36},"y":{"datum":6},"text":{"field":"t1"}}},
{"data":{"name":"notes"},"transform":[{"filter":"datum.p=='THL'"}],"mark":{"type":"text","font":"DejaVu Sans","fontWeight":"bold","fontSize":14.3,"color":"#000","align":"left","baseline":"top","dy":2},"encoding":{"x":{"datum":2005.28},"y":{"datum":6},"text":{"field":"t2"}}}
]},
{"width":531,"height":94,
"layer":[
{"data":{"name":"trend"},"transform":[{"filter":"datum.p=='KIR'"}],"mark":{"type":"line","strokeWidth":2.2,"opacity":0.55},"encoding":{"x":{"field":"yr","type":"quantitative","scale":{"domain":[1994.1,2017.1],"nice":false},"axis":{"values":[1996,2000,2004,2008,2012,2016],"labels":false,"title":null,"labelOverlap":false,"tickCount":30}},"y":{"field":"v","type":"quantitative","scale":{"domain":[-6,6],"nice":false},"axis":{"values":[-6,-4,-2,0,2,4,6],"format":"d","title":"KIR","labelOverlap":false,"tickCount":30}},"color":{"field":"g","type":"nominal","title":null,"scale":{"domain":["Stations 30-60°N","Stations 0-30°N","Stations 30-60°S","Stations > 60°N","Stations > 60°S"],"range":["#1e8c1e","#38c4d4","#eda520","#1a1aff","#ff1010"]}}}},
{"data":{"name":"obs"},"transform":[{"filter":"datum.p=='KIR'"}],"mark":{"type":"line","strokeWidth":1.5,"color":"#2b2bff","invalid":"break-paths-filter-domains"},"encoding":{"x":{"field":"yr","type":"quantitative","title":null},"y":{"field":"v","type":"quantitative","title":"KIR"}}},
{"data":{"name":"obs"},"transform":[{"filter":"datum.p=='KIR'"}],"mark":{"type":"point","shape":"triangle-right","filled":true,"size":65,"fill":"#0000c8","stroke":"#000060","strokeWidth":0.8,"opacity":1,"clip":true},"encoding":{"x":{"field":"yr","type":"quantitative","title":null},"y":{"field":"v","type":"quantitative","title":"KIR"}}},
{"data":{"name":"notes"},"transform":[{"filter":"datum.p=='KIR'"}],"mark":{"type":"text","font":"DejaVu Sans","fontWeight":"bold","fontSize":14.3,"color":"#000","align":"left","baseline":"top","dy":2},"encoding":{"x":{"datum":1994.36},"y":{"datum":6},"text":{"field":"t1"}}},
{"data":{"name":"notes"},"transform":[{"filter":"datum.p=='KIR'"}],"mark":{"type":"text","font":"DejaVu Sans","fontWeight":"bold","fontSize":14.3,"color":"#000","align":"left","baseline":"top","dy":2},"encoding":{"x":{"datum":2005.28},"y":{"datum":6},"text":{"field":"t2"}}}
]},
{"width":531,"height":94,
"layer":[
{"data":{"name":"trend"},"transform":[{"filter":"datum.p=='FBK'"}],"mark":{"type":"line","strokeWidth":2.2,"opacity":0.55},"encoding":{"x":{"field":"yr","type":"quantitative","scale":{"domain":[1994.1,2017.1],"nice":false},"axis":{"values":[1996,2000,2004,2008,2012,2016],"labels":false,"title":null,"labelOverlap":false,"tickCount":30}},"y":{"field":"v","type":"quantitative","scale":{"domain":[-6,6],"nice":false},"axis":{"values":[-6,-4,-2,0,2,4,6],"format":"d","title":"FBK","labelOverlap":false,"tickCount":30}},"color":{"field":"g","type":"nominal","title":null,"scale":{"domain":["Stations 30-60°N","Stations 0-30°N","Stations 30-60°S","Stations > 60°N","Stations > 60°S"],"range":["#1e8c1e","#38c4d4","#eda520","#1a1aff","#ff1010"]}}}},
{"data":{"name":"obs"},"transform":[{"filter":"datum.p=='FBK'"}],"mark":{"type":"line","strokeWidth":1.5,"color":"#2b2bff","invalid":"break-paths-filter-domains"},"encoding":{"x":{"field":"yr","type":"quantitative","title":null},"y":{"field":"v","type":"quantitative","title":"FBK"}}},
{"data":{"name":"obs"},"transform":[{"filter":"datum.p=='FBK'"}],"mark":{"type":"point","shape":"triangle-up","filled":true,"size":65,"fill":"#0000c8","stroke":"#000060","strokeWidth":0.8,"opacity":1,"clip":true},"encoding":{"x":{"field":"yr","type":"quantitative","title":null},"y":{"field":"v","type":"quantitative","title":"FBK"}}},
{"data":{"name":"notes"},"transform":[{"filter":"datum.p=='FBK'"}],"mark":{"type":"text","font":"DejaVu Sans","fontWeight":"bold","fontSize":14.3,"color":"#000","align":"left","baseline":"top","dy":2},"encoding":{"x":{"datum":1994.36},"y":{"datum":6},"text":{"field":"t1"}}},
{"data":{"name":"notes"},"transform":[{"filter":"datum.p=='FBK'"}],"mark":{"type":"text","font":"DejaVu Sans","fontWeight":"bold","fontSize":14.3,"color":"#000","align":"left","baseline":"top","dy":2},"encoding":{"x":{"datum":2005.28},"y":{"datum":6},"text":{"field":"t2"}}}
]},
{"width":531,"height":94,
"layer":[
{"data":{"name":"trend"},"transform":[{"filter":"datum.p=='AHTS'"}],"mark":{"type":"line","strokeWidth":2.2,"opacity":0.55},"encoding":{"x":{"field":"yr","type":"quantitative","scale":{"domain":[1994.1,2017.1],"nice":false},"axis":{"values":[1996,2000,2004,2008,2012,2016],"format":"d","title":"year","labelOverlap":false,"tickCount":30}},"y":{"field":"v","type":"quantitative","scale":{"domain":[-6,6],"nice":false},"axis":{"values":[-6,-4,-2,0,2,4,6],"format":"d","title":"AHTS","labelOverlap":false,"tickCount":30}},"color":{"field":"g","type":"nominal","title":null,"scale":{"domain":["Stations 30-60°N","Stations 0-30°N","Stations 30-60°S","Stations > 60°N","Stations > 60°S"],"range":["#1e8c1e","#38c4d4","#eda520","#1a1aff","#ff1010"]}}}},
{"data":{"name":"obs"},"transform":[{"filter":"datum.p=='AHTS'"}],"mark":{"type":"line","strokeWidth":1.5,"color":"#ff2020","invalid":"break-paths-filter-domains"},"encoding":{"x":{"field":"yr","type":"quantitative","title":"year"},"y":{"field":"v","type":"quantitative","title":"AHTS"}}},
{"data":{"name":"obs"},"transform":[{"filter":"datum.p=='AHTS'"}],"mark":{"type":"point","shape":"circle","filled":true,"size":65,"fill":"#e60000","stroke":"#800000","strokeWidth":0.8,"opacity":1,"clip":true},"encoding":{"x":{"field":"yr","type":"quantitative","title":"year"},"y":{"field":"v","type":"quantitative","title":"AHTS"}}},
{"data":{"name":"notes"},"transform":[{"filter":"datum.p=='AHTS'"}],"mark":{"type":"text","font":"DejaVu Sans","fontWeight":"bold","fontSize":14.3,"color":"#000","align":"left","baseline":"top","dy":2},"encoding":{"x":{"datum":1994.36},"y":{"datum":6},"text":{"field":"t1"}}},
{"data":{"name":"notes"},"transform":[{"filter":"datum.p=='AHTS'"}],"mark":{"type":"text","font":"DejaVu Sans","fontWeight":"bold","fontSize":14.3,"color":"#000","align":"left","baseline":"top","dy":2},"encoding":{"x":{"datum":2005.28},"y":{"datum":6},"text":{"field":"t2"}}}
]}
],
"spacing": 20,
"bounds": "flush",
"resolve": {"scale": {"x": "independent", "y": "independent"}}
}
],
"spacing": 16,
"resolve": {"scale": {"x": "independent", "y": "independent", "color": "shared"}, "legend": {"color": "shared"}},
"config": {
"font": "DejaVu Sans",
"view": {"stroke": "#222222", "strokeWidth": 1},
"axis": {"grid": true, "gridColor": "#666666", "gridDash": [1, 3], "gridWidth": 1, "gridOpacity": 1, "domain": false, "ticks": true, "tickSize": -4, "tickColor": "#000000", "tickWidth": 1, "labelOverlap": false, "labelFlush": false, "labelFont": "DejaVu Sans", "labelFontSize": 14, "labelColor": "#000000", "labelPadding": 9, "titleFont": "DejaVu Sans", "titleFontSize": 15, "titleFontWeight": "bold", "titleColor": "#000000"},
"axisY": {"titlePadding": 6},
"axisX": {"titlePadding": 4},
"legend": {"orient": "none", "legendX": 589, "legendY": 671, "columns": 2, "symbolType": "stroke", "symbolSize": 2809, "symbolStrokeWidth": 4, "symbolOpacity": 1, "labelFont": "DejaVu Sans", "labelFontSize": 18, "labelFontWeight": "bold", "labelColor": "#000000", "labelOffset": 12, "rowPadding": 2, "columnPadding": 55, "labelLimit": 400}
}
}
